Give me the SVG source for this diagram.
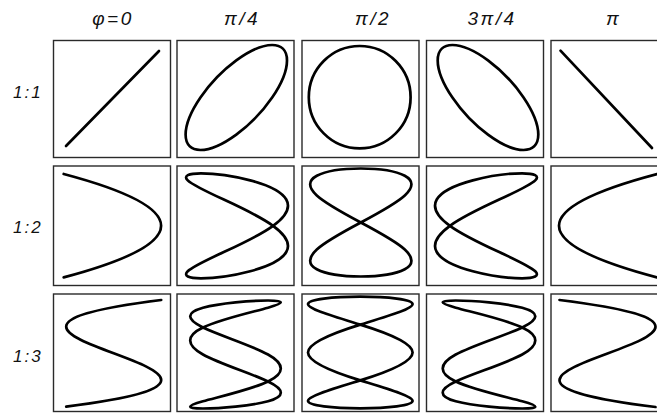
<svg xmlns="http://www.w3.org/2000/svg" width="657" height="418" viewBox="0 0 657 418">
<style>
.box{fill:none;stroke:#2a2a2a;stroke-width:1.4}
.c{fill:none;stroke:#000;stroke-width:2.7;stroke-linejoin:round;stroke-linecap:round;vector-effect:non-scaling-stroke}
.t{font-family:"Liberation Sans",Arial,sans-serif;font-style:italic;font-size:19px;fill:#111;letter-spacing:2.5px}
.r{font-family:"Liberation Sans",Arial,sans-serif;font-style:italic;font-size:17px;fill:#111;letter-spacing:2px}
</style>
<rect width="657" height="418" fill="#fff"/>
<g id="headers">
<text class="t" x="113" y="25" text-anchor="middle">φ=0</text>
<text class="t" x="242" y="25" text-anchor="middle">π/4</text>
<text class="t" x="373" y="25" text-anchor="middle">π/2</text>
<text class="t" x="492" y="25" text-anchor="middle">3π/4</text>
<text class="t" x="613.5" y="25" text-anchor="middle">π</text>
</g>
<g id="rowlabels">
<text class="r" x="13" y="98">1:1</text>
<text class="r" x="13" y="233">1:2</text>
<text class="r" x="13" y="362">1:3</text>
</g>
<g id="r1c1"><rect class="box" x="53.5" y="40.5" width="117" height="117"/><line class="c" x1="66" y1="146" x2="159" y2="51"/></g>
<g id="r1c2"><rect class="box" x="177" y="40.5" width="117" height="117"/><circle class="c" r="100" transform="translate(236.3,97.5) scale(0.507,0.525) matrix(-0.7071,0,0.7071,-1,0,0)"/></g>
<g id="r1c3"><rect class="box" x="302" y="40.5" width="117" height="117"/><ellipse class="c" cx="359.7" cy="97.2" rx="50.9" ry="51.2"/></g>
<g id="r1c4"><rect class="box" x="426.5" y="40.5" width="117" height="117"/><circle class="c" r="100" transform="translate(488,97.5) scale(0.503,0.525) matrix(-0.7071,0,-0.7071,-1,0,0)"/></g>
<g id="r1c5"><rect class="box" x="551" y="40.5" width="117" height="117"/><line class="c" x1="560.5" y1="50.7" x2="652" y2="148"/></g>
<g id="r2c1"><rect class="box" x="53.5" y="166" width="117" height="119.5"/><path class="c" transform="translate(112.4,225.7) scale(0.487,0.517)" d="M-100,-100 Q300,0 -100,100"/></g>
<g id="r2c2"><rect class="box" x="177" y="166" width="117" height="119.5"/><path class="c" transform="translate(237,225.8) scale(0.51,0.525)" d="M70.71,0 C95.39,-17.45 105.62,-34.88 96.59,-50 S59.6,-77.87 25.88,-86.6 S-46.03,-100 -70.71,-100 S-105.62,-95.33 -96.59,-86.6 S-59.6,-65.12 -25.88,-50 S46.03,-17.45 70.71,0 S105.62,34.88 96.59,50 S59.6,77.87 25.88,86.6 S-46.03,100 -70.71,100 S-105.62,95.33 -96.59,86.6 S-59.6,65.12 -25.88,50 S46.03,17.45 70.71,0 Z"/></g>
<g id="r2c3"><rect class="box" x="302" y="166" width="117" height="119.5"/><path class="c" transform="translate(360.8,222.5) scale(0.508,0.54)" d="M0,0 C34.91,-17.45 69.15,-34.88 86.6,-50 S104.05,-77.87 86.6,-86.6 S34.91,-100 0,-100 S-69.15,-95.33 -86.6,-86.6 S-104.05,-65.12 -86.6,-50 S-34.91,-17.45 0,0 S69.15,34.88 86.6,50 S104.05,77.87 86.6,86.6 S34.91,100 0,100 S-69.15,95.33 -86.6,86.6 S-104.05,65.12 -86.6,50 S-34.91,17.45 0,0 Z"/></g>
<g id="r2c4"><rect class="box" x="426.5" y="166" width="117" height="119.5"/><path class="c" transform="translate(486,225.8) scale(-0.51,0.525)" d="M70.71,0 C95.39,-17.45 105.62,-34.88 96.59,-50 S59.6,-77.87 25.88,-86.6 S-46.03,-100 -70.71,-100 S-105.62,-95.33 -96.59,-86.6 S-59.6,-65.12 -25.88,-50 S46.03,-17.45 70.71,0 S105.62,34.88 96.59,50 S59.6,77.87 25.88,86.6 S-46.03,100 -70.71,100 S-105.62,95.33 -96.59,86.6 S-59.6,65.12 -25.88,50 S46.03,17.45 70.71,0 Z"/></g>
<g id="r2c5"><rect class="box" x="551" y="166" width="117" height="119.5"/><path class="c" transform="translate(608,225.7) scale(0.49,0.517)" d="M100,-100 Q-300,0 100,100"/></g>
<g id="r3c1"><rect class="box" x="53.5" y="294" width="117" height="117.5"/><path class="c" transform="translate(113.7,353.3) scale(0.475,0.533)" d="M100,-100 C-500,-33.33 500,33.33 -100,100"/></g>
<g id="r3c2"><rect class="box" x="177" y="294" width="117" height="117.5"/><path class="c" transform="translate(235.5,354.5) scale(0.46,0.54)" d="M70.71,0 C33.69,-17.45 -33.69,-34.88 -70.71,-50 S-107.73,-77.87 -70.71,-86.6 S33.69,-100 70.71,-100 S107.73,-95.33 70.71,-86.6 S-33.69,-65.12 -70.71,-50 S-107.73,-17.45 -70.71,0 S33.69,34.88 70.71,50 S107.73,77.87 70.71,86.6 S-33.69,100 -70.71,100 S-107.73,95.33 -70.71,86.6 S33.69,65.12 70.71,50 S107.73,17.45 70.71,0 Z"/></g>
<g id="r3c3"><rect class="box" x="302" y="294" width="117" height="117.5"/><path class="c" transform="translate(360.3,352.5) scale(0.523,0.558)" d="M100,0 C100,-17.45 52.36,-34.88 0,-50 S-100,-77.87 -100,-86.6 S-52.36,-100 0,-100 S100,-95.33 100,-86.6 S52.36,-65.12 0,-50 S-100,-17.45 -100,0 S-52.36,34.88 0,50 S100,77.87 100,86.6 S52.36,100 0,100 S-100,95.33 -100,86.6 S-52.36,65.12 0,50 S100,17.45 100,0 Z"/></g>
<g id="r3c4"><rect class="box" x="426.5" y="294" width="117" height="117.5"/><path class="c" transform="translate(489,354.5) scale(-0.47,0.54)" d="M70.71,0 C33.69,-17.45 -33.69,-34.88 -70.71,-50 S-107.73,-77.87 -70.71,-86.6 S33.69,-100 70.71,-100 S107.73,-95.33 70.71,-86.6 S-33.69,-65.12 -70.71,-50 S-107.73,-17.45 -70.71,0 S33.69,34.88 70.71,50 S107.73,77.87 70.71,86.6 S-33.69,100 -70.71,100 S-107.73,95.33 -70.71,86.6 S33.69,65.12 70.71,50 S107.73,17.45 70.71,0 Z"/></g>
<g id="r3c5"><rect class="box" x="551" y="294" width="117" height="117.5"/><path class="c" transform="translate(607.5,353.5) scale(0.48,0.535)" d="M-100,-100 C500,-33.33 -500,33.33 100,100"/></g>
<g id="connectors"/>
</svg>
